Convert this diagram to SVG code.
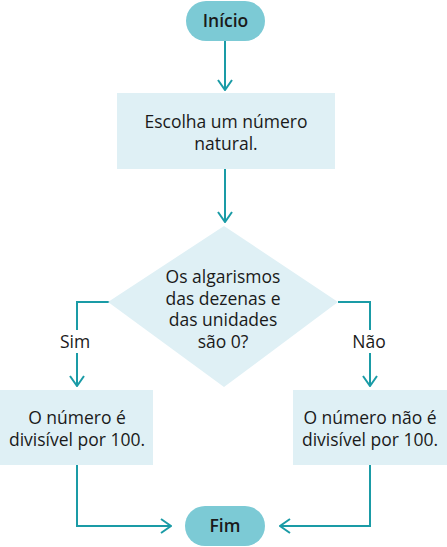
<svg xmlns="http://www.w3.org/2000/svg" width="447" height="547" viewBox="0 0 447 547">
<defs>
<marker id="ah" viewBox="0 0 12 16" refX="11" refY="8" markerWidth="12" markerHeight="16" markerUnits="userSpaceOnUse" orient="auto">
<path d="M1,1 L11,8 L1,15" fill="none" stroke="#1a9ba6" stroke-width="2"/>
</marker>
<style>
.term{fill:#7ccad5}
.box{fill:#dff0f5}
.ln{fill:none;stroke:#1a9ba6;stroke-width:2}
text{font-family:"Open Sans","Noto Sans",sans-serif;font-size:17.5px;fill:#1a1a1a;text-anchor:middle}
.b{font-weight:600}
</style>
</defs>
<g id="connectors">
<path class="ln" d="M225,41 V90" marker-end="url(#ah)"/>
<path class="ln" d="M225,169 V222" marker-end="url(#ah)"/>
<path class="ln" d="M110,302 H77 V330"/>
<path class="ln" d="M77,353 V386" marker-end="url(#ah)"/>
<path class="ln" d="M338,302 H370 V330"/>
<path class="ln" d="M370,353 V386" marker-end="url(#ah)"/>
<path class="ln" d="M77,465 V526 H171" marker-end="url(#ah)"/>
<path class="ln" d="M370,465 V526 H280" marker-end="url(#ah)"/>
<text x="75" y="348">Sim</text>
<text x="369" y="348">Não</text>
</g>
<g id="inicio">
<rect class="term" x="186" y="1" width="79" height="40" rx="20"/>
<text class="b" x="225.5" y="27">Início</text>
</g>
<g id="escolha">
<rect class="box" x="117" y="93" width="218" height="76"/>
<text x="226" y="128">Escolha um número</text>
<text x="226" y="150">natural.</text>
</g>
<g id="decisao">
<path class="box" d="M224,226 L338,302 L224,387 L108,302 Z"/>
<text x="223" y="283">Os algarismos</text>
<text x="223" y="304.7">das dezenas e</text>
<text x="223" y="326.4">das unidades</text>
<text x="223" y="348.1">são 0?</text>
</g>
<g id="sim">
<rect class="box" x="0" y="390" width="153" height="75"/>
<text x="77" y="424">O número é</text>
<text x="77" y="446">divisível por 100.</text>
</g>
<g id="nao">
<rect class="box" x="293" y="390" width="154" height="75"/>
<text x="370" y="424">O número não é</text>
<text x="370" y="446">divisível por 100.</text>
</g>
<g id="fim">
<rect class="term" x="185" y="506" width="80" height="40" rx="20"/>
<text class="b" x="225" y="532">Fim</text>
</g>
</svg>
